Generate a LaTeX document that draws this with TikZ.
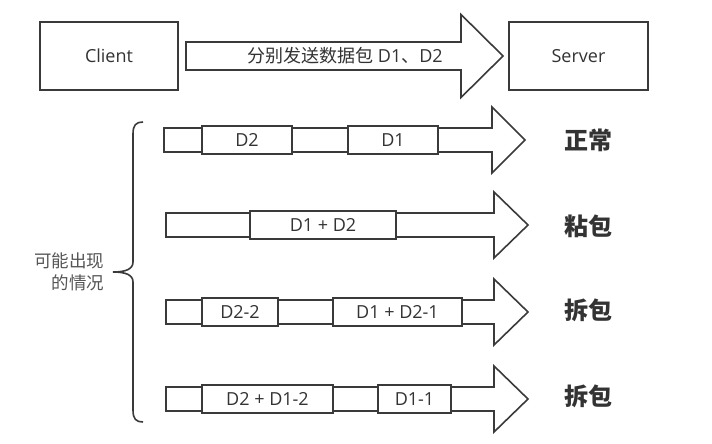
\documentclass[tikz,border=0pt]{standalone}
\usepackage{fontspec}
\setmainfont{Open Sans}
\newfontfamily\cjk{Noto Sans CJK SC}
\definecolor{linec}{HTML}{3A3A3A}
\definecolor{txt}{HTML}{333333}
\definecolor{graytxt}{HTML}{555555}
\newcommand\blkarrow[6]{%
  \draw[lc, fill=white] (#1,#4-#5) -- (#2,#4-#5) -- (#2,#4-#6) -- (#3,#4) -- (#2,#4+#6) -- (#2,#4+#5) -- (#1,#4+#5) -- cycle;}
\begin{document}
\begin{tikzpicture}[x=1pt,y=-1pt,
  lc/.style={draw=linec, line width=1.6pt, line join=miter},
  box/.style={lc, fill=white, minimum height=28pt, inner sep=0pt, text=txt,
    font=\fontsize{18}{18}\selectfont},
  bigbox/.style={lc, fill=white, minimum width=138pt, minimum height=68pt, inner sep=0pt,
    text=txt, font=\fontsize{18}{18}\selectfont},
  res/.style={text=txt, font=\fontsize{24}{24}\selectfont\cjk\bfseries}]
\useasboundingbox[fill=white] (0,0) rectangle (712,444);

% top row
\node[bigbox] (client) at (109,56) {Client};
\node[bigbox, minimum width=139pt] (server) at (578.5,56) {Server};
\blkarrow{186}{461}{503}{56}{14}{41.5}
\node[anchor=west, text=txt, font=\fontsize{18}{18}\selectfont, inner sep=0pt] (msg) at (247,56) {{\cjk 分别发送数据包} D1{\cjk 、}D2};

% row 1
\blkarrow{164}{492}{525}{140}{12}{33}
\node[box, minimum width=90pt] (r1a) at (247,140) {D2};
\node[box, minimum width=90pt] (r1b) at (393,140) {D1};
\node[res] (s1) at (588,140) {正常};

% row 2
\blkarrow{166}{494}{528}{225}{12}{33}
\node[box, minimum width=146pt] (r2a) at (323,225) {D1 + D2};
\node[res] (s2) at (588,226) {粘包};

% row 3
\blkarrow{166}{494}{528}{312}{12}{33}
\node[box, minimum width=76pt] (r3a) at (240,312) {D2-2};
\node[box, minimum width=129pt] (r3b) at (397.5,312) {D1 + D2-1};
\node[res] (s3) at (588,310) {拆包};

% row 4
\blkarrow{166}{494}{528}{399}{12}{33}
\node[box, minimum width=131pt] (r4a) at (267.5,399) {D2 + D1-2};
\node[box, minimum width=73pt] (r4b) at (414.5,399) {D1-1};
\node[res] (s4) at (588,396) {拆包};

% brace
\draw[draw=linec, line width=1.6pt] (143,122) .. controls (136,122) and (133,125) .. (133,134)
  -- (133,262) .. controls (133,269) and (126,272) .. (113,272)
  .. controls (126,272) and (133,275) .. (133,282)
  -- (133,410) .. controls (133,419) and (136,422) .. (143,422);
\node[anchor=east, align=right, text=graytxt, font=\fontsize{17.5}{21.5}\selectfont\cjk] (lab) at (108,272) {可能出现\\的情况};
\end{tikzpicture}
\end{document}
